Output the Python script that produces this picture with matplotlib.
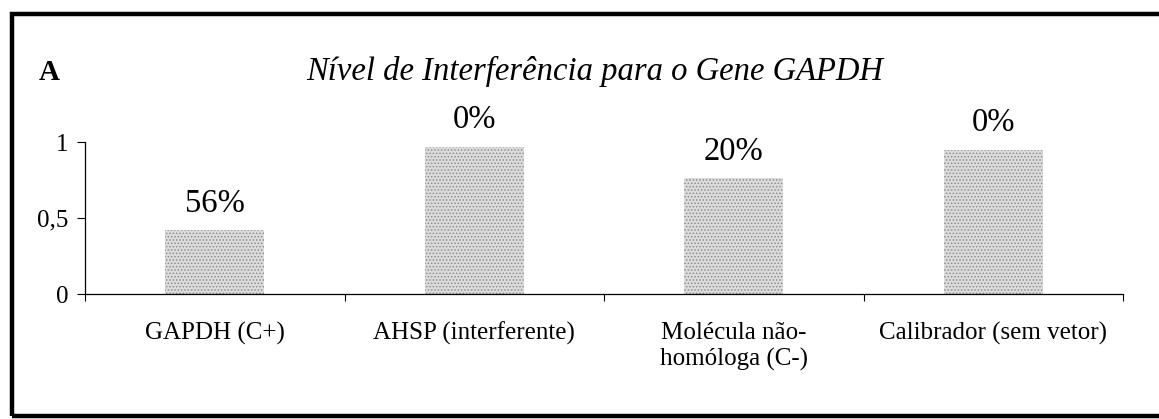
import numpy as np
import matplotlib
matplotlib.use('Agg')
import matplotlib.pyplot as plt
from matplotlib.patches import Rectangle

# data
categories = ['GAPDH (C+)', 'AHSP (interferente)', 'Molécula não-\nhomóloga (C-)', 'Calibrador (sem vetor)']
values = [0.42, 0.97, 0.76, 0.95]
pct_labels = ['56%', '0%', '20%', '0%']
yticks = [0, 0.5, 1]
ytick_labels = ['0', '0,5', '1']

plt.rcParams['font.family'] = 'Liberation Serif'
plt.rcParams['hatch.linewidth'] = 0.7

fig = plt.figure(figsize=(11.59, 4.19), dpi=100)
ax = fig.add_axes([85/1159, 125/419, (1123-85)/1159, 152/419])

x = np.arange(len(categories))
ax.bar(x, values, width=0.38, facecolor='#dcdcdc', edgecolor='#8c8c8c',
       hatch='.....', linewidth=0)

for xi, v, lab in zip(x, values, pct_labels):
    ax.annotate(lab, (xi, v), xytext=(0, 19), textcoords='offset points',
                ha='center', va='center', fontsize=23.5)

ax.set_xlim(-0.5, 3.5)
ax.set_ylim(0, 1)
ax.set_yticks(yticks)
ax.set_yticklabels(ytick_labels, fontsize=18)
ax.tick_params(axis='y', length=6, width=0.8, pad=6)

ax.set_xticks(x)
ax.set_xticklabels(categories, fontsize=18, linespacing=1.25)
ax.tick_params(axis='x', which='major', length=0, pad=20)
ax.set_xticks(np.arange(-0.5, 4, 1), minor=True)
ax.tick_params(axis='x', which='minor', length=5, width=0.8, direction='out')

for s in ['top', 'right']:
    ax.spines[s].set_visible(False)
for s in ['left', 'bottom']:
    ax.spines[s].set_linewidth(0.9)

fig.text(595/1159, 1 - 71/419, 'Nível de Interferência para o Gene GAPDH',
         ha='center', va='center', fontsize=23.5, style='italic')
fig.text(39/1159, 1 - 73/419, 'A', ha='left', va='center', fontsize=21,
         fontweight='bold')

# outer frame
fig.patches.append(Rectangle((12/1159, 3/419), 1.1, (416-14)/419,
                             transform=fig.transFigure, fill=False,
                             edgecolor='black', linewidth=3.2))

fig.savefig('out.png', dpi=100)
